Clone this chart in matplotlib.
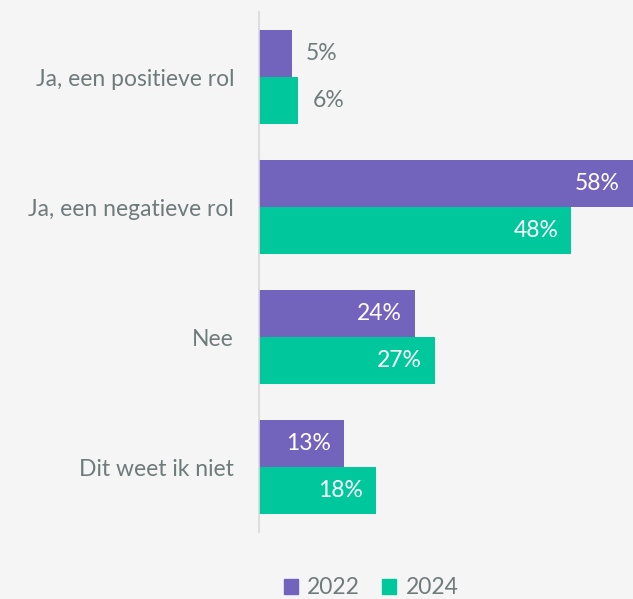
import matplotlib
matplotlib.use('Agg')
import matplotlib.pyplot as plt
from matplotlib.patches import Patch

categories = ['Ja, een positieve rol', 'Ja, een negatieve rol', 'Nee', 'Dit weet ik niet']
v2022 = [5, 58, 24, 13]
v2024 = [6, 48, 27, 18]
series = ['2022', '2024']

c22 = '#7264bc'
c24 = '#00c89c'
txt = '#6f7b7b'
bg = '#f5f5f5'

plt.rcParams['font.family'] = ['Lato', 'DejaVu Sans']

fig = plt.figure(figsize=(6.33, 5.99), dpi=100, facecolor=bg)
ax = fig.add_axes([259/633, 1-532/599, 1-259/633, 520/599])
ax.set_facecolor(bg)

h = 0.36
ypos = list(range(len(categories)))
y22 = [y - h/2 for y in ypos]
y24 = [y + h/2 for y in ypos]
ax.barh(y22, v2022, height=h, color=c22)
ax.barh(y24, v2024, height=h, color=c24)

ax.set_xlim(0, 57.5)
ax.set_ylim(3.5, -0.5)

fs = 16.5
for ys, vals in ((y22, v2022), (y24, v2024)):
    for y, v in zip(ys, vals):
        if v >= 10:
            ax.text(min(v, 57.5) - 2.0, y, f'{v}%', color='white', fontsize=fs,
                    ha='right', va='center')
        else:
            ax.text(v + 2.2, y, f'{v}%', color=txt, fontsize=fs,
                    ha='left', va='center')

ax.set_yticks(ypos)
ax.set_yticklabels(categories, fontsize=fs, color=txt)
ax.tick_params(axis='y', length=0, pad=18)
ax.set_xticks([])
for s in ['top', 'right', 'bottom']:
    ax.spines[s].set_visible(False)
ax.spines['left'].set_color('#d9d9d9')
ax.spines['left'].set_linewidth(1.2)

handles = [Patch(color=c22), Patch(color=c24)]
leg = fig.legend(handles, series, loc='center', bbox_to_anchor=(371/633, 1-588/599),
                 ncol=2, frameon=False, fontsize=fs, handlelength=0.6,
                 handleheight=0.6, handletextpad=0.4, columnspacing=1.0)
for t in leg.get_texts():
    t.set_color(txt)

fig.savefig('out.png', dpi=100, facecolor=bg)
